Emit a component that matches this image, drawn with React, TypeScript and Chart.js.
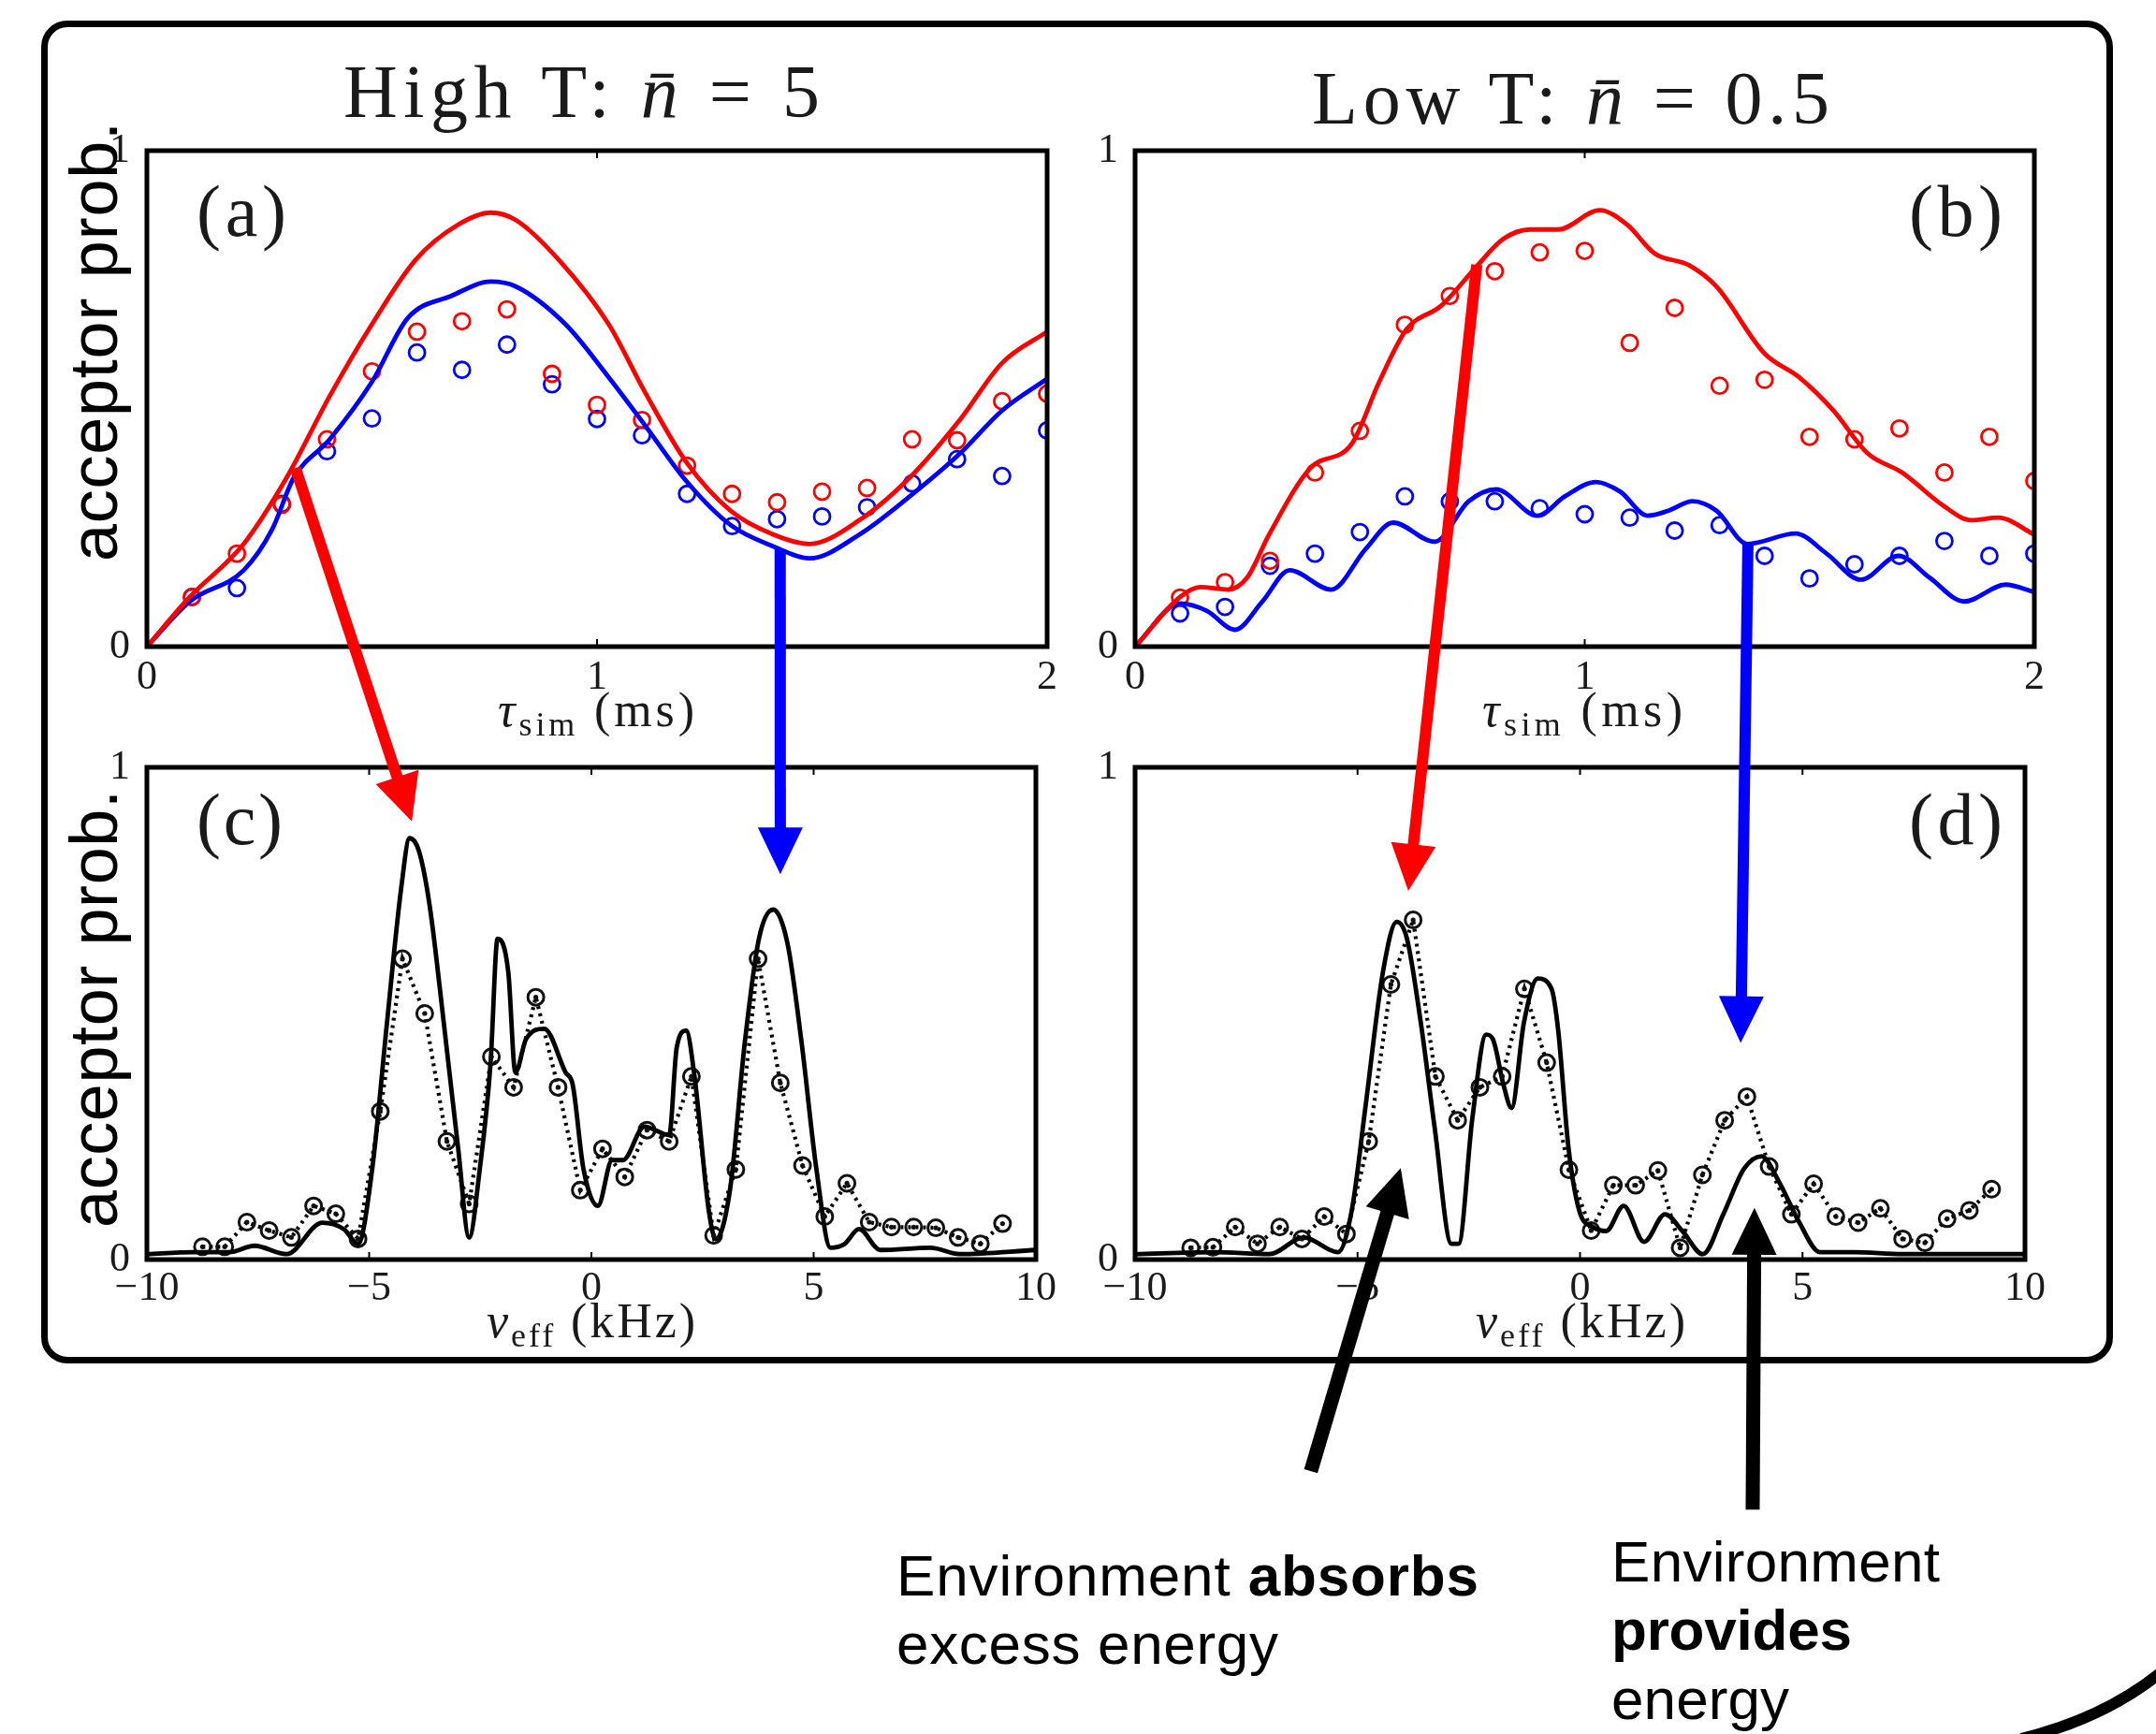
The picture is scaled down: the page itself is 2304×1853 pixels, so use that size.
import React, { useEffect, useRef } from 'react';
import { Chart, registerables } from 'chart.js';

Chart.register(...registerables);

// ---------------- DATA ----------------
// Panel (a): High T, simulation time (ms) vs acceptor probability
const aRedLineT = [0, 0.095, 0.215, 0.31, 0.406, 0.5, 0.597, 0.69, 0.764, 0.82, 0.915, 1.026, 1.106, 1.2, 1.297, 1.392, 1.472, 1.583, 1.695, 1.806, 1.9, 2.0];
const aRedLineP = [0, 0.1, 0.207, 0.34, 0.505, 0.65, 0.78, 0.85, 0.875, 0.86, 0.78, 0.65, 0.514, 0.37, 0.274, 0.226, 0.207, 0.255, 0.341, 0.457, 0.572, 0.635];
const aBlueLineT = [0, 0.095, 0.215, 0.278, 0.326, 0.406, 0.5, 0.58, 0.676, 0.764, 0.82, 0.93, 1.026, 1.106, 1.2, 1.297, 1.392, 1.472, 1.583, 1.695, 1.806, 1.9, 2.0];
const aBlueLineP = [0, 0.091, 0.154, 0.236, 0.34, 0.418, 0.534, 0.663, 0.707, 0.736, 0.726, 0.65, 0.543, 0.447, 0.332, 0.245, 0.202, 0.178, 0.226, 0.303, 0.389, 0.476, 0.54];
const tauDots = [0.1, 0.2, 0.3, 0.4, 0.5, 0.6, 0.7, 0.8, 0.9, 1.0, 1.1, 1.2, 1.3, 1.4, 1.5, 1.6, 1.7, 1.8, 1.9, 2.0];
const aRedDots = [0.1, 0.1875, 0.286, 0.418, 0.555, 0.635, 0.656, 0.68, 0.55, 0.4875, 0.457, 0.365, 0.308, 0.291, 0.3125, 0.32, 0.418, 0.416, 0.495, 0.51];
const aBlueDots = [0.1, 0.118, 0.288, 0.394, 0.46, 0.593, 0.558, 0.609, 0.529, 0.459, 0.426, 0.308, 0.243, 0.257, 0.2625, 0.281, 0.329, 0.378, 0.344, 0.436];

// Panel (b): Low T
const bRedLineT = [0, 0.1, 0.145, 0.207, 0.25, 0.298, 0.39, 0.482, 0.543, 0.604, 0.681, 0.757, 0.819, 0.88, 0.941, 1.033, 1.094, 1.155, 1.232, 1.293, 1.4, 1.477, 1.553, 1.63, 1.706, 1.798, 1.859, 1.92, 2.0];
const bRedLineP = [0, 0.1, 0.12, 0.115, 0.14, 0.226, 0.36, 0.409, 0.534, 0.64, 0.6875, 0.764, 0.822, 0.841, 0.841, 0.88, 0.851, 0.793, 0.769, 0.726, 0.591, 0.543, 0.476, 0.389, 0.351, 0.284, 0.255, 0.26, 0.226];
const bBlueLineT = [0, 0.1, 0.16, 0.222, 0.283, 0.344, 0.436, 0.513, 0.574, 0.666, 0.742, 0.803, 0.895, 0.956, 1.025, 1.079, 1.14, 1.186, 1.24, 1.293, 1.362, 1.469, 1.538, 1.614, 1.698, 1.767, 1.844, 1.936, 2.0];
const bBlueLineP = [0, 0.087, 0.072, 0.034, 0.091, 0.154, 0.115, 0.197, 0.25, 0.2115, 0.293, 0.317, 0.264, 0.303, 0.332, 0.3125, 0.264, 0.274, 0.293, 0.274, 0.207, 0.228, 0.1875, 0.135, 0.183, 0.139, 0.091, 0.125, 0.11];
const bRedDots = [0.099, 0.13, 0.173, 0.351, 0.435, 0.649, 0.707, 0.757, 0.795, 0.798, 0.6125, 0.683, 0.526, 0.538, 0.423, 0.418, 0.44, 0.351, 0.423, 0.334];
const bBlueDots = [0.067, 0.08, 0.163, 0.1875, 0.231, 0.303, 0.293, 0.293, 0.279, 0.267, 0.26, 0.234, 0.245, 0.183, 0.1375, 0.166, 0.183, 0.213, 0.183, 0.1875];

// Panels (c), (d): effective frequency (kHz) vs acceptor probability
const nuDots = [-8.75, -8.25, -7.75, -7.25, -6.75, -6.25, -5.75, -5.25, -4.75, -4.25, -3.75, -3.25, -2.75, -2.25, -1.75, -1.25, -0.75, -0.25, 0.25, 0.75, 1.25, 1.75, 2.25, 2.75, 3.25, 3.75, 4.25, 4.75, 5.25, 5.75, 6.25, 6.75, 7.25, 7.75, 8.25, 8.75, 9.25];
const cSolidNu = [-10, -8.95, -8.15, -7.58, -6.86, -6.05, -5.57, -5.25, -4.93, -4.6, -4.28, -4.09, -3.88, -3.64, -3.32, -3.0, -2.75, -2.51, -2.27, -2.11, -1.87, -1.71, -1.47, -1.06, -0.58, -0.42, -0.18, 0.145, 0.467, 0.71, 1.19, 1.75, 1.92, 2.13, 2.32, 2.64, 2.8, 3.12, 3.45, 3.77, 4.09, 4.41, 4.73, 5.06, 5.38, 5.7, 6.02, 6.5, 7.63, 8.28, 10];
const cSolidP = [0.011, 0.015, 0.015, 0.028, 0.011, 0.075, 0.062, 0.032, 0.185, 0.48, 0.754, 0.856, 0.83, 0.72, 0.48, 0.2275, 0.045, 0.185, 0.397, 0.652, 0.584, 0.38, 0.448, 0.469, 0.38, 0.355, 0.185, 0.109, 0.202, 0.202, 0.27, 0.253, 0.431, 0.465, 0.372, 0.1, 0.041, 0.143, 0.44, 0.652, 0.711, 0.643, 0.44, 0.185, 0.024, 0.032, 0.062, 0.0195, 0.024, 0.011, 0.0195];
const cDots = [0.026, 0.026, 0.076, 0.059, 0.045, 0.109, 0.093, 0.042, 0.301, 0.611, 0.5, 0.24, 0.113, 0.412, 0.35, 0.533, 0.35, 0.141, 0.225, 0.168, 0.263, 0.24, 0.372, 0.049, 0.183, 0.611, 0.359, 0.191, 0.0875, 0.155, 0.076, 0.066, 0.066, 0.0645, 0.045, 0.032, 0.073];
const dSolidNu = [-10, -8.22, -6.98, -6.21, -5.44, -5.13, -4.82, -4.43, -4.12, -3.89, -3.58, -3.27, -2.89, -2.73, -2.42, -2.11, -1.96, -1.72, -1.54, -1.26, -0.95, -0.64, -0.49, -0.26, -0.02, 0.29, 0.59, 0.98, 1.44, 1.91, 2.3, 2.76, 3.22, 3.69, 4.08, 4.46, 4.93, 5.39, 6.16, 7.25, 10];
const dSolidP = [0.011, 0.015, 0.011, 0.045, 0.015, 0.1, 0.312, 0.584, 0.686, 0.652, 0.482, 0.27, 0.032, 0.032, 0.287, 0.457, 0.448, 0.355, 0.308, 0.482, 0.571, 0.55, 0.465, 0.2275, 0.1, 0.066, 0.058, 0.109, 0.036, 0.092, 0.058, 0.011, 0.092, 0.185, 0.21, 0.16, 0.075, 0.015, 0.015, 0.011, 0.011];
const dDots = [0.024, 0.025, 0.066, 0.032, 0.066, 0.042, 0.0875, 0.052, 0.24, 0.559, 0.69, 0.372, 0.283, 0.35, 0.372, 0.55, 0.4, 0.1825, 0.059, 0.151, 0.151, 0.181, 0.024, 0.172, 0.283, 0.331, 0.189, 0.092, 0.154, 0.0875, 0.075, 0.104, 0.042, 0.034, 0.083, 0.1, 0.143];

// Axis ranges / ticks
const tauRange = [0, 2];
const tauStep = 1;
const nuRange = [-10, 10];
const nuStep = 5;
const probRange = [0, 1];

// Annotation arrows, in data units of the panels: [panel, x, y]
const arrowFrom = [['a', 0.33, 0.36], ['a', 1.407, 0.196], ['b', 0.76, 0.77], ['b', 1.363, 0.206], ['d', -6.05, -0.43], ['d', 3.88, -0.508]];
const arrowTo = [['c', -4.04, 0.89], ['c', 4.25, 0.783], ['d', -3.86, 0.749], ['d', 3.61, 0.44], ['d', -4.03, 0.186], ['d', 3.92, 0.105]];
const arrowColor = ['#ff0000', '#0000ff', '#ff0000', '#0000ff', '#000000', '#000000'];
const arrowWidth = [12, 12, 12, 12, 15, 15];

// ---------------- LAYOUT ----------------
const W = 2304;
const H = 1853;
const RED = '#ff0000';
const BLUE = '#0000ff';
const SERIF = '"Liberation Serif", "DejaVu Serif", serif';
const SANS = '"Liberation Sans", Arial, sans-serif';
const Y_W = 80;
const PAD_T = 55;
const PAD_R = 45;
const X_H = 70;

type Box = { left: number; top: number; right: number; bottom: number };
const PLOT: Record<string, Box> = {
  a: { left: 157, top: 161, right: 1119, bottom: 691 },
  b: { left: 1213, top: 161, right: 2174, bottom: 691 },
  c: { left: 157, top: 820, right: 1107, bottom: 1346 },
  d: { left: 1213, top: 820, right: 2164, bottom: 1346 },
};
const canvasRect = (b: Box) => ({
  left: b.left - Y_W,
  top: b.top - PAD_T,
  width: b.right - b.left + Y_W + PAD_R,
  height: b.bottom - b.top + PAD_T + X_H,
});

const pts = (xs: number[], ys: number[]) => xs.map((x, i) => ({ x, y: ys[i] }));

const framePlugin = {
  id: 'frame',
  afterDraw(chart: any) {
    const { ctx, chartArea } = chart;
    const { left, top, right, bottom } = chartArea;
    ctx.save();
    ctx.strokeStyle = '#000';
    ctx.lineWidth = 2;
    const xs = chart.scales.x;
    xs.ticks.forEach((t: any) => {
      const px = xs.getPixelForValue(t.value);
      ctx.beginPath();
      ctx.moveTo(px, bottom);
      ctx.lineTo(px, bottom - 8);
      ctx.moveTo(px, top);
      ctx.lineTo(px, top + 8);
      ctx.stroke();
    });
    ctx.lineWidth = 5;
    ctx.strokeRect(left, top, right - left, bottom - top);
    ctx.restore();
  },
};

const fmtTick = (v: any) => {
  const n = Number(v);
  return n < 0 ? '\u2212' + Math.abs(n) : String(n);
};

function makeConfig(datasets: any[], xr: number[], xStep: number, xPad: number) {
  return {
    type: 'line',
    data: { datasets },
    options: {
      responsive: false,
      maintainAspectRatio: false,
      animation: false,
      devicePixelRatio: 1,
      events: [],
      layout: { padding: { top: PAD_T, right: PAD_R, left: 0, bottom: 0 } },
      plugins: { legend: { display: false }, tooltip: { enabled: false }, title: { display: false } },
      scales: {
        x: {
          type: 'linear',
          min: xr[0],
          max: xr[1],
          ticks: { stepSize: xStep, padding: xPad, autoSkip: false, maxRotation: 0, color: '#1a1a1a', font: { family: SERIF, size: 44 }, callback: fmtTick },
          grid: { display: false, drawTicks: false },
          border: { display: false },
          afterFit: (s: any) => { s.height = X_H; },
        },
        y: {
          type: 'linear',
          min: probRange[0],
          max: probRange[1],
          ticks: { stepSize: 1, padding: 18, color: '#1a1a1a', font: { family: SERIF, size: 44 }, callback: fmtTick },
          grid: { display: false, drawTicks: false },
          border: { display: false },
          afterFit: (s: any) => { s.width = Y_W; },
        },
      },
    },
    plugins: [framePlugin],
  } as any;
}

const lineDs = (data: any[], color: string) => ({
  data,
  borderColor: color,
  borderWidth: 4.8,
  pointRadius: 0,
  cubicInterpolationMode: 'monotone',
  fill: false,
});
const ringDs = (data: any[], color: string, r: number) => ({
  data,
  showLine: false,
  borderColor: color,
  pointStyle: 'circle',
  pointRadius: r,
  pointBorderWidth: 2.8,
  pointBorderColor: color,
  pointBackgroundColor: 'rgba(0,0,0,0)',
});
const dottedDs = (data: any[]) => ({
  data,
  showLine: true,
  borderColor: '#000',
  borderWidth: 4.2,
  borderDash: [3, 5],
  tension: 0,
  pointStyle: 'circle',
  pointRadius: 8.5,
  pointBorderWidth: 3,
  pointBorderColor: '#111',
  pointBackgroundColor: 'rgba(0,0,0,0)',
});
const centerDs = (data: any[]) => ({
  data,
  showLine: false,
  pointRadius: 2.6,
  pointBorderWidth: 0,
  pointBackgroundColor: '#111',
});

function drawArrow(ctx: CanvasRenderingContext2D, x1: number, y1: number, x2: number, y2: number, color: string, w: number) {
  const headLen = 50;
  const headW = 48;
  const dx = x2 - x1;
  const dy = y2 - y1;
  const L = Math.hypot(dx, dy);
  const ux = dx / L;
  const uy = dy / L;
  const bx = x2 - ux * headLen;
  const by = y2 - uy * headLen;
  ctx.save();
  ctx.strokeStyle = color;
  ctx.fillStyle = color;
  ctx.lineWidth = w;
  ctx.lineCap = 'butt';
  ctx.beginPath();
  ctx.moveTo(x1, y1);
  ctx.lineTo(bx + ux * 2, by + uy * 2);
  ctx.stroke();
  ctx.beginPath();
  ctx.moveTo(x2, y2);
  ctx.lineTo(bx - uy * headW / 2, by + ux * headW / 2);
  ctx.lineTo(bx + uy * headW / 2, by - ux * headW / 2);
  ctx.closePath();
  ctx.fill();
  ctx.restore();
}

export default function App() {
  const refA = useRef<HTMLCanvasElement>(null);
  const refB = useRef<HTMLCanvasElement>(null);
  const refC = useRef<HTMLCanvasElement>(null);
  const refD = useRef<HTMLCanvasElement>(null);
  const refO = useRef<HTMLCanvasElement>(null);

  useEffect(() => {
    document.body.style.margin = '0';
    document.body.style.overflow = 'hidden';
    const charts: Record<string, any> = {};
    charts.a = new Chart(refA.current as any, makeConfig([
      lineDs(pts(aRedLineT, aRedLineP), RED),
      lineDs(pts(aBlueLineT, aBlueLineP), BLUE),
      ringDs(pts(tauDots, aRedDots), RED, 8.5),
      ringDs(pts(tauDots, aBlueDots), BLUE, 8.5),
    ], tauRange, tauStep, 7));
    charts.b = new Chart(refB.current as any, makeConfig([
      lineDs(pts(bRedLineT, bRedLineP), RED),
      lineDs(pts(bBlueLineT, bBlueLineP), BLUE),
      ringDs(pts(tauDots, bRedDots), RED, 8.5),
      ringDs(pts(tauDots, bBlueDots), BLUE, 8.5),
    ], tauRange, tauStep, 7));
    charts.c = new Chart(refC.current as any, makeConfig([
      centerDs(pts(nuDots, cDots)),
      lineDs(pts(cSolidNu, cSolidP), '#000'),
      dottedDs(pts(nuDots, cDots)),
    ], nuRange, nuStep, 5));
    charts.d = new Chart(refD.current as any, makeConfig([
      centerDs(pts(nuDots, dDots)),
      lineDs(pts(dSolidNu, dSolidP), '#000'),
      dottedDs(pts(nuDots, dDots)),
    ], nuRange, nuStep, 5));

    const toPage = (spec: any[]) => {
      const [k, x, y] = spec;
      const ch = charts[k];
      const r = canvasRect(PLOT[k]);
      return [r.left + ch.scales.x.getPixelForValue(x), r.top + ch.scales.y.getPixelForValue(y)];
    };

    const oc = refO.current;
    if (oc) {
      const ctx = oc.getContext('2d')!;
      ctx.clearRect(0, 0, W, H);
      arrowFrom.forEach((f, i) => {
        const [x1, y1] = toPage(f);
        const [x2, y2] = toPage(arrowTo[i]);
        drawArrow(ctx, x1, y1, x2, y2, arrowColor[i], arrowWidth[i]);
      });
      // decorative arc, bottom right corner
      ctx.save();
      ctx.strokeStyle = '#000';
      ctx.lineWidth = 12;
      ctx.beginPath();
      ctx.moveTo(2160, 1858);
      ctx.quadraticCurveTo(2250, 1836, 2312, 1785);
      ctx.stroke();
      ctx.restore();
    }

    return () => {
      Object.values(charts).forEach((c: any) => c.destroy());
    };
  }, []);

  const cv = (k: string, ref: any) => {
    const r = canvasRect(PLOT[k]);
    return (
      <canvas
        ref={ref}
        width={r.width}
        height={r.height}
        style={{ position: 'absolute', left: r.left, top: r.top, width: r.width, height: r.height }}
      />
    );
  };

  const serifText = { fontFamily: SERIF, fill: '#1a1a1a' } as any;
  const sansText = { fontFamily: SANS, fill: '#000' } as any;

  return (
    <div style={{ position: 'absolute', left: 0, top: 0, width: W, height: H, background: '#fff', overflow: 'hidden' }}>
      <div
        style={{
          position: 'absolute',
          left: 44,
          top: 22,
          width: 2214,
          height: 1435,
          boxSizing: 'border-box',
          border: '7px solid #000',
          borderRadius: 28,
        }}
      />
      {cv('a', refA)}
      {cv('b', refB)}
      {cv('c', refC)}
      {cv('d', refD)}
      <canvas ref={refO} width={W} height={H} style={{ position: 'absolute', left: 0, top: 0, width: W, height: H, pointerEvents: 'none' }} />
      <svg width={W} height={H} style={{ position: 'absolute', left: 0, top: 0 }}>
        <text x={367} y={125} fontSize={80} textLength={509} lengthAdjust="spacing" style={serifText}>
          {'High T: '}<tspan fontStyle="italic">{'n\u0304'}</tspan>{' = 5'}
        </text>
        <text x={1402} y={132} fontSize={80} textLength={553} lengthAdjust="spacing" style={serifText}>
          {'Low T: '}<tspan fontStyle="italic">{'n\u0304'}</tspan>{' = 0.5'}
        </text>

        <text x={210} y={252} fontSize={78} textLength={96} lengthAdjust="spacing" style={serifText}>(a)</text>
        <text x={2040} y={252} fontSize={78} textLength={100} lengthAdjust="spacing" style={serifText}>(b)</text>
        <text x={210} y={902} fontSize={78} textLength={92} lengthAdjust="spacing" style={serifText}>(c)</text>
        <text x={2040} y={902} fontSize={78} textLength={100} lengthAdjust="spacing" style={serifText}>(d)</text>

        <text x={532} y={776} fontSize={52} textLength={210} lengthAdjust="spacing" style={serifText}>
          <tspan fontStyle="italic">τ</tspan><tspan fontSize={36} dy={10}>sim</tspan><tspan dy={-10}>{' (ms)'}</tspan>
        </text>
        <text x={1584} y={776} fontSize={52} textLength={214} lengthAdjust="spacing" style={serifText}>
          <tspan fontStyle="italic">τ</tspan><tspan fontSize={36} dy={10}>sim</tspan><tspan dy={-10}>{' (ms)'}</tspan>
        </text>
        <text x={520} y={1429} fontSize={52} textLength={223} lengthAdjust="spacing" style={serifText}>
          <tspan fontStyle="italic">ν</tspan><tspan fontSize={36} dy={10}>eff</tspan><tspan dy={-10}>{' (kHz)'}</tspan>
        </text>
        <text x={1577} y={1429} fontSize={52} textLength={224} lengthAdjust="spacing" style={serifText}>
          <tspan fontStyle="italic">ν</tspan><tspan fontSize={36} dy={10}>eff</tspan><tspan dy={-10}>{' (kHz)'}</tspan>
        </text>

        <text transform="translate(125,365) rotate(-90)" textAnchor="middle" fontSize={72} textLength={470} lengthAdjust="spacing" style={sansText}>acceptor prob.</text>
        <text transform="translate(125,1078) rotate(-90)" textAnchor="middle" fontSize={72} textLength={468} lengthAdjust="spacing" style={sansText}>acceptor prob.</text>

        <text x={958} y={1705} fontSize={62} textLength={622} lengthAdjust="spacing" style={sansText}>
          {'Environment '}<tspan fontWeight="bold">absorbs</tspan>
        </text>
        <text x={958} y={1778} fontSize={62} textLength={408} lengthAdjust="spacing" style={sansText}>excess energy</text>
        <text x={1722} y={1690} fontSize={62} textLength={351} lengthAdjust="spacing" style={sansText}>Environment</text>
        <text x={1722} y={1763} fontSize={62} textLength={257} lengthAdjust="spacing" fontWeight="bold" style={sansText}>provides</text>
        <text x={1722} y={1837} fontSize={62} textLength={190} lengthAdjust="spacing" style={sansText}>energy</text>
      </svg>
    </div>
  );
}
